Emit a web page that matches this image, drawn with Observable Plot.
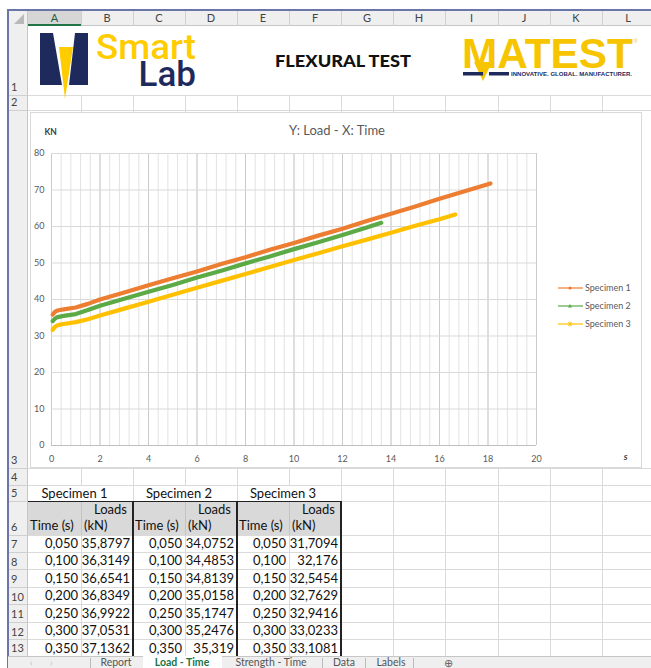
<!DOCTYPE html>
<html><head><meta charset="utf-8">
<script src="https://cdn.jsdelivr.net/npm/d3@7"></script>
<script src="https://cdn.jsdelivr.net/npm/@observablehq/plot@0.6"></script>
<style>
html,body{margin:0;padding:0;background:#fff;}
#sheet{position:relative;width:651px;height:668px;overflow:hidden;font-family:Lato,"Liberation Sans",sans-serif;background:#fff;color:#000;}
#sheet div{position:absolute;box-sizing:border-box;}
</style></head>
<body><div id="sheet"></div>
<script>
// ---------- DATA ----------
const specimens = ["Specimen 1", "Specimen 2", "Specimen 3"];
const seriesColors = ["#ED7D31", "#5BAA46", "#FFC000"];
// table values (rows 7-13)
const tableTimes = [0.05, 0.10, 0.15, 0.20, 0.25, 0.30, 0.35];
const s1TableLoads = [35.8797, 36.3149, 36.6541, 36.8349, 36.9922, 37.0531, 37.1362];
const s2TableLoads = [34.0752, 34.4853, 34.8139, 35.0158, 35.1747, 35.2476, 35.319];
const s3TableLoads = [31.7094, 32.176, 32.5454, 32.7629, 32.9416, 33.0233, 33.1081];
// values
const s1Times = [0.5, 1, 1.5, 2, 3, 4, 5, 6, 7, 8, 9, 10, 11, 12, 13, 14, 15, 16, 17, 18, 18.1];
const s1Loads = [37.3, 37.8, 38.8, 40.0, 41.9, 43.9, 45.8, 47.7, 49.7, 51.6, 53.6, 55.5, 57.5, 59.4, 61.5, 63.5, 65.5, 67.6, 69.6, 71.6, 71.8];
const s2Times = [0.5, 1, 1.5, 2, 3, 4, 5, 6, 7, 8, 9, 10, 11, 12, 13, 13.6];
const s2Loads = [35.5, 36.0, 37.1, 38.3, 40.2, 42.1, 44.0, 46.0, 47.9, 49.9, 51.8, 53.8, 55.7, 57.7, 59.7, 61.0];
const s3Times = [0.5, 1, 1.5, 2, 3, 4, 5, 6, 7, 8, 9, 10, 11, 12, 13, 14, 15, 16, 16.65];
const s3Loads = [33.3, 33.8, 34.6, 35.6, 37.5, 39.4, 41.3, 43.2, 45.1, 47.0, 48.9, 50.8, 52.7, 54.6, 56.4, 58.3, 60.2, 62.0, 63.3];
const xTicks = [0, 2, 4, 6, 8, 10, 12, 14, 16, 18, 20];
const yTicks = [0, 10, 20, 30, 40, 50, 60, 70, 80];
const colLabels = ["A","B","C","D","E","F","G","H","I","J","K","L"];
const rowLabels = ["1","2","3","4","5","6","7","8","9","10","11","12","13"];
const tabLabels = ["Report", "Load - Time", "Strength - Time", "Data", "Labels"];

// ---------- LAYOUT HELPERS ----------
const sheet = document.getElementById("sheet");
function box(x, y, w, h, css = {}) {
  const d = document.createElement("div");
  Object.assign(d.style, {left: x + "px", top: y + "px", width: w + "px", height: h + "px"}, css);
  sheet.appendChild(d); return d;
}
function txt(x, y, w, h, s, css = {}) {
  const d = box(x, y, w, h, Object.assign({lineHeight: h + "px", whiteSpace: "nowrap"}, css));
  d.textContent = s; return d;
}
const colEdges = [28, 81, 133, 185, 237, 289, 341, 393, 445, 498, 550, 602, 654];
const rowEdges = [26, 95, 110, 468, 485, 501, 535, 552, 569.5, 587, 604.5, 622, 639.5, 656];
const gridC = "#dadada";

// cell gridlines
for (let r = 0; r < rowLabels.length; r++) {
  const y0 = rowEdges[r], y1 = rowEdges[r + 1];
  box(28, y1 - 0.5, 623, 1, {background: gridC});
  if (r === 0) continue;
  colEdges.slice(1).forEach((cx, ci) => {
    if (r === 4 && (ci === 0 || ci === 2 || ci === 4)) return; // merged titles row 5
    box(cx - 0.5, y0, 1, y1 - y0, {background: gridC});
  });
}
// header row + row header column
box(8, 10, 643, 16, {background: "#efefef", borderBottom: "1px solid #c6c6c6"});
box(8, 10, 20, 646, {background: "#efefef", borderRight: "1px solid #c6c6c6"});
box(colEdges[0], 10, colEdges[1] - colEdges[0], 16, {background: "#d6d6d6", borderBottom: "2px solid #217346"});
colLabels.forEach((c, i) => {
  box(colEdges[i + 1] - 0.5, 10, 1, 16, {background: "#cfcfcf"});
  txt(colEdges[i], 10, colEdges[i + 1] - colEdges[i], 16, c, {textAlign: "center", fontSize: "11px", color: i === 0 ? "#1e5e3a" : "#444"});
});
rowLabels.forEach((r, i) => {
  const y1 = rowEdges[i + 1];
  box(8, y1 - 0.5, 20, 1, {background: "#cfcfcf"});
  txt(11, y1 - 16, 17, 15, r, {fontSize: "11px", color: "#444"});
});
// corner triangle
const corner = document.createElementNS("http://www.w3.org/2000/svg", "svg");
corner.setAttribute("width", 20); corner.setAttribute("height", 16);
corner.style.cssText = "position:absolute;left:8px;top:10px;";
corner.innerHTML = '<polygon points="16,4 16,14 6,14" fill="#b9b9b9"/>';
sheet.appendChild(corner);
// frame borders
box(7, 9, 644, 1.5, {background: "#6a76a8"});
box(7, 9, 1.5, 659, {background: "#6a76a8"});

// ---------- LOGO ROW ----------
const logo = document.createElementNS("http://www.w3.org/2000/svg", "svg");
logo.setAttribute("width", 651); logo.setAttribute("height", 110);
logo.style.cssText = "position:absolute;left:0;top:0;";
logo.innerHTML = `
  <polygon points="40,33 53,33 62,85 40,85" fill="#1f2a5c"/>
  <polygon points="75,33 88,33 88,85 69,85" fill="#1f2a5c"/>
  <polygon points="59,47 73,47 65,99" fill="#ffcc00"/>
  <text x="96" y="59" font-family="Roboto" font-weight="500" font-size="35" fill="#ffcc00" textLength="100" lengthAdjust="spacingAndGlyphs">Smart</text>
  <text x="196" y="86" text-anchor="end" font-family="Roboto" font-weight="500" font-size="35" fill="#1f2a5c">Lab</text>
  <text x="343" y="67" text-anchor="middle" font-family="Lato" font-weight="900" font-size="17.5" fill="#111" textLength="136" lengthAdjust="spacingAndGlyphs">FLEXURAL TEST</text>
  <polygon points="474,62 492,62 483,81" fill="#f6c500"/>
  <text x="462" y="68" font-family="Liberation Sans" font-weight="bold" font-size="42" fill="#f6c500" textLength="171" lengthAdjust="spacingAndGlyphs">MATEST</text>
  <text x="634" y="43" font-family="Liberation Sans" font-size="5" fill="#f6c500">®</text>
  <rect x="463" y="72" width="20" height="3.5" fill="#1f2a5c"/>
  <rect x="489" y="72" width="20" height="3.5" fill="#1f2a5c"/>
  <text x="511" y="76" font-family="Liberation Sans" font-weight="bold" font-size="5.6" fill="#1f2a5c" textLength="121" lengthAdjust="spacingAndGlyphs">INNOVATIVE. GLOBAL. MANUFACTURER.</text>`;
sheet.appendChild(logo);

// ---------- TABLE ----------
const fmtLoad = v => String(v).replace(".", ",");
const fmtTime = v => v.toFixed(3).replace(".", ",");
box(28, 501, 313, 34, {background: "#d9d9d9"});
[81, 185, 289].forEach(x => box(x - 0.5, 501, 1, 34, {background: "#c4c4c4"}));
const tableLoads = [s1TableLoads, s2TableLoads, s3TableLoads];
specimens.forEach((name, k) => {
  const xa = colEdges[2 * k], xb = colEdges[2 * k + 1], xc = colEdges[2 * k + 2];
  txt(xa - 6, 485, xc - xa, 16, name, {textAlign: "center", fontSize: "13px", color: "#111"});
  txt(xb + 13, 501, 40, 16, "Loads", {fontSize: "13px", color: "#111"});
  txt(xa + 2, 517, 60, 17, "Time (s)", {fontSize: "13px", color: "#111"});
  txt(xb + 3, 517, 40, 17, "(kN)", {fontSize: "13px", color: "#111"});
  tableTimes.forEach((t, i) => {
    const y0 = rowEdges[6 + i], h = rowEdges[7 + i] - y0;
    txt(xa, y0, xb - xa - 3, h, fmtTime(t), {textAlign: "right", fontSize: "13px", color: "#111"});
    txt(xb, y0, xc - xb - 3, h, fmtLoad(tableLoads[k][i]), {textAlign: "right", fontSize: "13px", color: "#111"});
  });
});
box(28, 500.5, 313, 1.2, {background: "#222"});
[133, 237, 341].forEach(x => box(x - 0.6, 501, 1.2, 155, {background: "#222"}));

// ---------- TABS ----------
box(8, 656, 643, 12, {background: "#efefef", borderTop: "1px solid #c6c6c6"});
txt(30, 657, 8, 11, "‹", {fontSize: "9px", color: "#bbb"});
txt(50, 657, 8, 11, "›", {fontSize: "9px", color: "#bbb"});
box(143, 656, 79, 12, {background: "#fff"});
const tabCenters = [116, 182, 271, 344, 391];
tabLabels.forEach((t, i) => {
  txt(tabCenters[i] - 45, 656.5, 90, 11, t, {textAlign: "center", fontSize: "10.5px", color: i === 1 ? "#217346" : "#555", fontWeight: i === 1 ? "bold" : "normal"});
});
[90, 322, 365, 413].forEach(x => box(x, 658, 1, 10, {background: "#bbb"}));
txt(441, 656.5, 14, 11, "⊕", {fontSize: "11px", color: "#666", textAlign: "center"});

// ---------- CHART ----------
box(30, 112, 612, 356, {background: "#fff", border: "1px solid #d9d9d9"});
const rows = [];
[[tableTimes.concat(s1Times), s1TableLoads.concat(s1Loads)],
 [tableTimes.concat(s2Times), s2TableLoads.concat(s2Loads)],
 [tableTimes.concat(s3Times), s3TableLoads.concat(s3Loads)]].forEach(([ts, ls], k) =>
  ts.forEach((t, j) => rows.push({time: t, load: ls[j], specimen: specimens[k]})));
const minorX = d3.range(0, 51).map(i => i * 0.4);

const chart = Plot.plot({
  width: 612, height: 355,
  marginLeft: 21, marginRight: 106, marginTop: 41, marginBottom: 22,
  style: {fontFamily: "Lato, sans-serif", fontSize: "9px", color: "#595959", background: "transparent", overflow: "visible"},
  x: {domain: [0, 20]},
  y: {domain: [0, 80]},
  color: {domain: specimens, range: seriesColors},
  marks: [
    Plot.gridX(minorX, {stroke: "#e2e2e2", strokeOpacity: 1}),
    Plot.gridX(xTicks, {stroke: "#cbcbcb", strokeOpacity: 1}),
    Plot.gridY(yTicks, {stroke: "#d9d9d9", strokeOpacity: 1}),
    Plot.ruleY([0], {stroke: "#bfbfbf"}),
    Plot.axisX(xTicks, {tickSize: 0, tickPadding: 10, label: null}),
    Plot.axisY(yTicks, {tickSize: 0, tickPadding: 7, label: null}),
    Plot.line(rows, {x: "time", y: "load", stroke: "specimen", z: "specimen", strokeWidth: 4.2, strokeLinejoin: "round"}),
    Plot.text(["Y: Load - X: Time"], {text: d => d, frameAnchor: "top", dx: 43, dy: -28, fontSize: 13, fill: "#595959"}),
    Plot.text(["KN"], {text: d => d, frameAnchor: "top-left", dx: -7, dy: -25, fontSize: 8.5, fontWeight: "bold", fill: "#404040"}),
    Plot.text(["s"], {text: d => d, frameAnchor: "bottom-right", dx: 91, dy: 14, fontSize: 9.5, fontWeight: "bold", fontStyle: "italic", fill: "#404040"})
  ]
});
chart.style.position = "absolute";
chart.style.left = "30px";
chart.style.top = "112px";
sheet.appendChild(chart);

// legend
const markers = [
  '<circle cx="12" cy="5" r="1.6" fill="COL"/>',
  '<polygon points="12,3 14,6.5 10,6.5" fill="COL"/>',
  '<path d="M10.3,3.3 L13.7,6.7 M13.7,3.3 L10.3,6.7 M12,2.6 L12,7.4" stroke="COL" stroke-width="1"/>'
];
specimens.forEach((name, k) => {
  const y = 288 + k * 18;
  const sw = document.createElementNS("http://www.w3.org/2000/svg", "svg");
  sw.setAttribute("width", 26); sw.setAttribute("height", 10);
  sw.style.cssText = `position:absolute;left:558px;top:${y - 5}px;`;
  sw.innerHTML = `<line x1="0" y1="5" x2="25" y2="5" stroke="${seriesColors[k]}" stroke-width="1.2"/>` + markers[k].replace(/COL/g, seriesColors[k]);
  sheet.appendChild(sw);
  txt(585, y - 7, 60, 14, name, {fontSize: "9px", color: "#595959"});
});
</script>
</body></html>
